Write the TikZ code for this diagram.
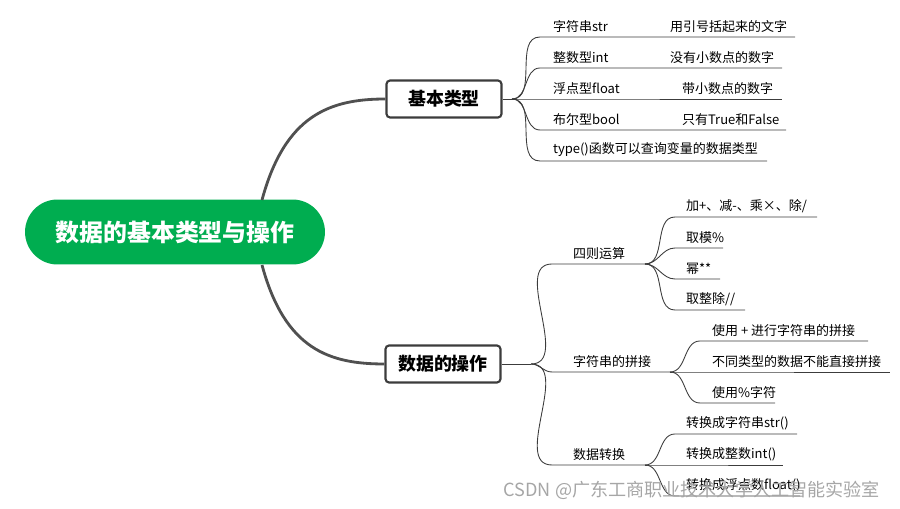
\documentclass[tikz,border=0pt]{standalone}
\usepackage{fontspec}
\setmainfont{Noto Sans CJK SC}
\usetikzlibrary{positioning}
\definecolor{rootgreen}{RGB}{0,173,80}
\definecolor{linegray}{RGB}{60,60,60}
\tikzset{
  branch/.style={draw=linegray,line width=1.2pt,rounded corners=2pt,fill=white,
    minimum width=2.3cm,minimum height=0.74cm,font=\bfseries\fontsize{10.2}{11}\selectfont},
  leaf/.style={anchor=south west,inner sep=1pt,font=\fontsize{7.4}{8}\selectfont},
  twig/.style={draw=linegray,line width=0.5pt},
  limb/.style={draw=linegray!90,line width=1.6pt}
}
\begin{document}
\begin{tikzpicture}[x=0.02cm,y=-0.02cm]
  \useasboundingbox (0,0) rectangle (900,509);
  % root
  \node[fill=rootgreen,rounded corners=0.65cm,minimum width=6cm,minimum height=1.3cm,
    text=white,font=\bfseries\fontsize{13.6}{14}\selectfont] (root) at (175,232) {数据的基本类型与操作};
  % main branches
  \node[branch] (basic) at (444,99) {基本类型};
  \node[branch] (ops) at (443,364) {数据的操作};
  \coordinate (rootN) at (262,200);
  \coordinate (rootS) at (262,265);
  \draw[limb] (rootN) .. controls (285,115) and (330,99) .. (basic.west);
  \draw[limb] (rootS) .. controls (285,350) and (330,364) .. (ops.west);
  % basic types
  \coordinate (fb) at (512,99);
  \draw[twig] (basic.east) -- (fb);
  \foreach \y/\xe/\ta/\tb/\xb in {37/795/字符串str/用引号括起来的文字/668,
                                  68/782/整数型int/没有小数点的数字/668,
                                  99/782/浮点型float/带小数点的数字/680,
                                  130/786/布尔型bool/只有True和False/680,
                                  161/767/type()函数可以查询变量的数据类型/} {
    \draw[twig] (fb) to[out=0,in=180] (540,\y) -- (\xe,\y);
    \node[leaf] at (551,\y-2) {\ta};
    \node[leaf] at (\xb,\y-2) {\tb};
  }
  % operations
  \coordinate (fo) at (531,364);
  \draw[twig] (ops.east) -- (fo);
  \coordinate (f1) at (645,264);
  \coordinate (f2) at (670,372);
  \coordinate (f3) at (645,465);
  \draw[twig] (fo) to[out=0,in=180] (552,264) -- (f1);
  \draw[twig] (fo) to[out=0,in=180] (552,372) -- (f2);
  \draw[twig] (fo) to[out=0,in=180] (552,465) -- (f3);
  \node[leaf] at (571,262) {四则运算};
  \node[leaf] at (571,370) {字符串的拼接};
  \node[leaf] at (571,463) {数据转换};
  \foreach \y/\xe/\t in {217/817/{加+、减-、乘×、除/},248/723/{取模\%},279/720/{幂**},310/745/{取整除//}} {
    \draw[twig] (f1) to[out=0,in=180] (675,\y) -- (\xe,\y);
    \node[leaf] at (684,\y-2) {\t};
  }
  \foreach \y/\xe/\t in {341/868/使用 + 进行字符串的拼接,372/890/不同类型的数据不能直接拼接,403/775/使用\%字符} {
    \draw[twig] (f2) to[out=0,in=180] (700,\y) -- (\xe,\y);
    \node[leaf] at (710,\y-2) {\t};
  }
  \foreach \y/\xe/\t in {434/797/转换成字符串str(),465/783/转换成整数int(),496/800/转换成浮点数float()} {
    \draw[twig] (f3) to[out=0,in=180] (675,\y) -- (\xe,\y);
    \node[leaf] at (684,\y-2) {\t};
  }
  % watermark
  \node[anchor=east,text=gray!70,font=\fontsize{10.3}{11}\selectfont] (mark) at (886,490) {CSDN @广东工商职业技术大学人工智能实验室};
\end{tikzpicture}
\end{document}
